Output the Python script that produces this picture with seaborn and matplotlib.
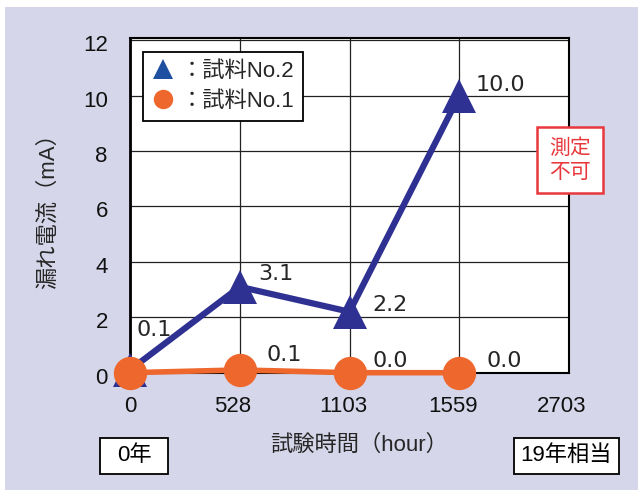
import matplotlib
matplotlib.use("Agg")
import matplotlib.pyplot as plt
import matplotlib.transforms as mtransforms
from matplotlib.lines import Line2D
from matplotlib.patches import Rectangle
import pandas as pd
import seaborn as sns

# ---- data ----
hours = ["0", "528", "1103", "1559", "2703"]
sample2_current = [0.1, 3.1, 2.2, 10.0]   # 試料No.2 (mA)
sample1_current = [0.0, 0.1, 0.0, 0.0]    # 試料No.1 (mA)
sample2_labelled = [0, 1, 2, 3]
sample1_labelled = [1, 2, 3]
y_ticks = [0, 2, 4, 6, 8, 10, 12]

BLUE = "#2e3192"
ORANGE = "#ee672d"
RED = "#e8383d"
BG = "#d6d6ea"

sns.set_style("white")
plt.rcParams["font.family"] = ["Liberation Sans", "Noto Sans CJK JP", "DejaVu Sans"]

df2 = pd.DataFrame({"pos": range(len(sample2_current)), "value": sample2_current})
df1 = pd.DataFrame({"pos": range(len(sample1_current)), "value": sample1_current})

W, H = 638, 490
fig = plt.figure(figsize=(W / 100, H / 100), dpi=100)
fig.patch.set_facecolor("white")
fig.add_artist(Rectangle((5 / W, 0), 1 - 5 / W, 1 - 7 / H, transform=fig.transFigure,
                         facecolor=BG, edgecolor="none", zorder=-10))

ax = fig.add_axes([130 / W, (H - 372.7) / H, 439 / W, (372.7 - 38.3) / H])
ax.set_facecolor("white")

# grid
ax.set_xlim(0, len(hours) - 1)
ax.set_ylim(0, 12.07)
ax.set_xticks(range(len(hours)))
ax.set_xticklabels(hours)
ax.set_yticks(y_ticks)
ax.grid(True, color="#222222", linewidth=0.9)
ax.set_axisbelow(True)
for s in ax.spines.values():
    s.set_color("black")
    s.set_linewidth(1.5)
ax.spines["left"].set_linewidth(2.0)
ax.tick_params(axis="both", length=0, labelsize=16, colors="#111111")
ax.tick_params(axis="x", pad=17)
ax.tick_params(axis="y", pad=16)

# series
sns.lineplot(data=df2, x="pos", y="value", ax=ax, color=BLUE, linewidth=4.5,
             marker="^", markersize=25, markeredgewidth=0, clip_on=False, zorder=3)
sns.lineplot(data=df1, x="pos", y="value", ax=ax, color=ORANGE, linewidth=4.0,
             marker="o", markersize=24, markeredgewidth=0, clip_on=False, zorder=4)
ax.set_xlabel("")
ax.set_ylabel("")

# value labels
offsets2 = [(7, 40), (18, 13), (23, 7), (16, 11)]
offsets1 = [(27, 15), (23, 12), (27, 12)]
for i, (dx, dy) in zip(sample2_labelled, offsets2):
    v = sample2_current[i]
    ax.annotate(f"{v:.1f}", xy=(i, v), xytext=(dx, dy), textcoords="offset pixels",
                ha="left", va="center", fontsize=16, family="DejaVu Sans",
                annotation_clip=False, zorder=6)
for i, (dx, dy) in zip(sample1_labelled, offsets1):
    v = sample1_current[i]
    ax.annotate(f"{v:.1f}", xy=(i, v), xytext=(dx, dy), textcoords="offset pixels",
                ha="left", va="center", fontsize=16, family="DejaVu Sans",
                annotation_clip=False, zorder=6)

# axis titles
ax.set_xlabel("試験時間（hour）", fontsize=16, va="center")
ax.xaxis.set_label_coords((359 - 130) / 439, (372.7 - 445) / 334.4)
ax.set_ylabel("漏れ電流（mA）", fontsize=16, va="center")
ax.yaxis.set_label_coords((48 - 130) / 439, 0.5)

# legend
handles = [
    Line2D([], [], linestyle="none", marker="^", markersize=15, color="#1f4fa0", markeredgewidth=0),
    Line2D([], [], linestyle="none", marker="o", markersize=14, color=ORANGE, markeredgewidth=0),
]
leg = ax.legend(handles, ["：試料No.2", "：試料No.1"], loc="upper left",
                bbox_to_anchor=(143 / W, 1 - 52 / H), bbox_transform=fig.transFigure,
                borderaxespad=0, frameon=True, fancybox=False, framealpha=1,
                edgecolor="black", fontsize=16, handlelength=1.0, handletextpad=0.3,
                borderpad=0.4, labelspacing=0.4)
leg.get_frame().set_linewidth(1.3)
leg.set_zorder(10)

# tick label nudges
xshift = [0, -7, -6, -6, -7]
for lab, off in zip(ax.get_xticklabels(), xshift):
    lab.set_transform(lab.get_transform() + mtransforms.ScaledTranslation(off / 100, 0, fig.dpi_scale_trans))
for lab in ax.get_yticklabels():
    lab.set_transform(lab.get_transform() + mtransforms.ScaledTranslation(0, -3 / 100, fig.dpi_scale_trans))

# boxed notes
def boxed(x0, y0, x1, y1, text, color="black", lw=1.3, size=16, linespacing=1.2):
    fig.add_artist(Rectangle((x0 / W, 1 - y1 / H), (x1 - x0) / W, (y1 - y0) / H,
                             transform=fig.transFigure, facecolor="white",
                             edgecolor=color, linewidth=lw, zorder=5))
    fig.text((x0 + x1) / 2 / W, 1 - (y0 + y1) / 2 / H, text, ha="center", va="center",
             fontsize=size, color=color, linespacing=linespacing, zorder=6)

boxed(100, 437.5, 168, 474, "0年")
boxed(514, 437.5, 619, 474, "19年相当")
boxed(537, 127, 603, 193, "測定\n不可", color=RED, lw=1.8, size=15, linespacing=1.35)

fig.savefig("out.png", dpi=100)
